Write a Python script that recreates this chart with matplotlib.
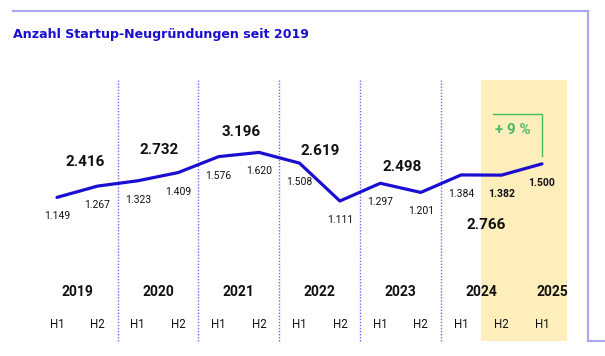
import matplotlib.pyplot as plt
from matplotlib.lines import Line2D

plt.rcParams['font.family'] = ['Roboto', 'DejaVu Sans']

# Daten: Startup-Neugründungen je Halbjahr
halbjahre = ['H1', 'H2', 'H1', 'H2', 'H1', 'H2', 'H1', 'H2', 'H1', 'H2', 'H1', 'H2', 'H1']
werte = [1149, 1267, 1323, 1409, 1576, 1620, 1508, 1111, 1297, 1201, 1384, 1382, 1500]
wert_labels = ['1.149', '1.267', '1.323', '1.409', '1.576', '1.620', '1.508',
               '1.111', '1.297', '1.201', '1.384', '1.382', '1.500']
jahre = ['2019', '2020', '2021', '2022', '2023', '2024', '2025']
jahr_summen = ['2.416', '2.732', '3.196', '2.619', '2.498', '2.766']
plus_text = '+ 9 %'

# Layout (Datenkoordinaten für die Jahressummen)
summe_x = [0.69, 2.52, 4.55, 6.51, 8.54, 10.61]
summe_y = [1519, 1645, 1834, 1635, 1467, 860]
jahr_x = [0.5, 2.5, 4.5, 6.5, 8.5, 10.5, 12.27]

blau = '#1a0fd0'
gruen = '#4cb96a'
rahmen = '#aaa6f5'

fig = plt.figure(figsize=(6.05, 3.56), dpi=100)
ax = fig.add_axes([0, 0, 1, 1])
ax.set_xlim(-1.41, 13.56)
ax.set_ylim(-512, 3216)
ax.axis('off')

x = list(range(len(werte)))

# gelber Bereich für 2024 H2 / 2025 H1
ax.axvspan(10.5, 12.62, ymin=0.042, ymax=0.775, color='#fdeebb', lw=0, zorder=0)

# gepunktete Trennlinien zwischen den Jahren
for xs in [1.5, 3.5, 5.5, 7.5, 9.5]:
    ax.axvline(xs, ymin=0.042, ymax=0.775, color='#6b6bff', lw=1, ls=(0, (1, 1.2)), zorder=1)

ax.plot(x, werte, color=blau, lw=2.3, solid_capstyle='round', zorder=3)

for i, (v, lab) in enumerate(zip(werte, wert_labels)):
    bold = i >= 11
    ax.annotate(lab, (i, v), xytext=(0, -13.7), textcoords='offset points',
                ha='center', va='center', fontsize=7.5,
                fontweight='bold' if bold else 'normal', color='#111111')

for sx, sy, s in zip(summe_x, summe_y, jahr_summen):
    ax.text(sx, sy, s, ha='center', va='center', fontsize=11, fontweight='bold', color='#111111')

tr = ax.get_xaxis_transform()
for jx, j in zip(jahr_x, jahre):
    ax.text(jx, 1 - 292 / 356, j, transform=tr, ha='center', va='center',
            fontsize=10, fontweight='bold', color='#111111')
for i, h in enumerate(halbjahre):
    ax.text(i, 1 - 324 / 356, h, transform=tr, ha='center', va='center',
            fontsize=8.3, color='#111111')

# +9 % Klammer
ax.plot([10.79, 12, 12], [2022, 2022, 1582], color=gruen, lw=1.0, zorder=2)
ax.text(11.28, 1855, plus_text, ha='center', va='center', fontsize=11,
        fontweight='bold', color=gruen)

# Rahmen
fig.add_artist(Line2D([13 / 605, 588 / 605], [1 - 11 / 356, 1 - 11 / 356], color=rahmen, lw=1.5))
fig.add_artist(Line2D([588 / 605, 588 / 605], [1 - 11 / 356, 1 - 341 / 356], color=rahmen, lw=1.5))
fig.add_artist(Line2D([588 / 605, 1], [1 - 341 / 356, 1 - 341 / 356], color=rahmen, lw=1.5))

fig.text(13 / 605, 1 - 38 / 356, 'Anzahl Startup-Neugründungen seit 2019', ha='left', va='baseline',
         fontsize=9.1, fontweight='bold', color=blau, family='DejaVu Sans')

fig.savefig('out.png', dpi=100)
